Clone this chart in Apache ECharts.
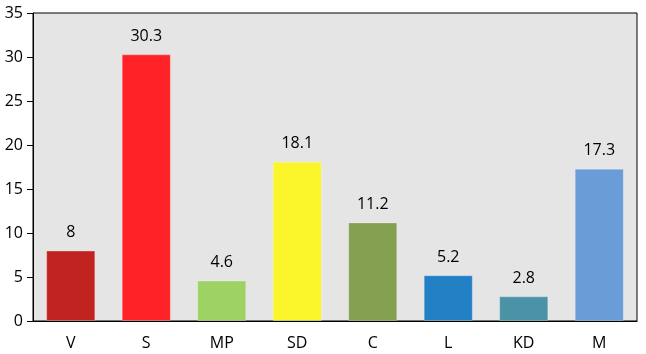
<!DOCTYPE html>
<html><head><meta charset="utf-8">
<script src="https://cdn.jsdelivr.net/npm/echarts@6/dist/echarts.min.js"></script>
<style>html,body{margin:0;padding:0;background:#fff}#c{width:646px;height:354px}</style>
</head><body><div id="c"></div>
<script>
const categories = ['V','S','MP','SD','C','L','KD','M'];
const values = [8, 30.3, 4.6, 18.1, 11.2, 5.2, 2.8, 17.3];
const colors = ['#C12320','#FF2226','#9FD264','#FAF62B','#84A152','#2280C5','#4A92A6','#6A9CD7'];
const yTicks = [0,5,10,15,20,25,30,35];

const chart = echarts.init(document.getElementById('c'));
const font = '"Open Sans", "Noto Sans", sans-serif';
chart.setOption({
  animation:false,
  grid:{left:33,right:9,top:13,bottom:33,show:true,backgroundColor:'#e5e5e5',borderColor:'#000',borderWidth:1},
  xAxis:{type:'category',data:categories,
    axisLine:{lineStyle:{color:'#000'}},axisTick:{show:false},
    axisLabel:{color:'#000',fontSize:16,fontFamily:font,margin:14}},
  yAxis:{type:'value',min:yTicks[0],max:yTicks[yTicks.length-1],interval:5,
    splitLine:{show:false},
    axisLine:{show:true,lineStyle:{color:'#000'}},
    axisTick:{show:true,length:6,lineStyle:{color:'#000'}},
    axisLabel:{color:'#000',fontSize:16,fontFamily:font,margin:10}},
  series:[{type:'bar',barWidth:'65%',
    data:values.map((v,i)=>({value:v,itemStyle:{color:colors[i],borderColor:'rgba(255,255,255,0.25)',borderWidth:1}})),
    label:{show:true,position:'top',distance:10,color:'#000',fontSize:16,fontFamily:font}}]
});
</script></body></html>
